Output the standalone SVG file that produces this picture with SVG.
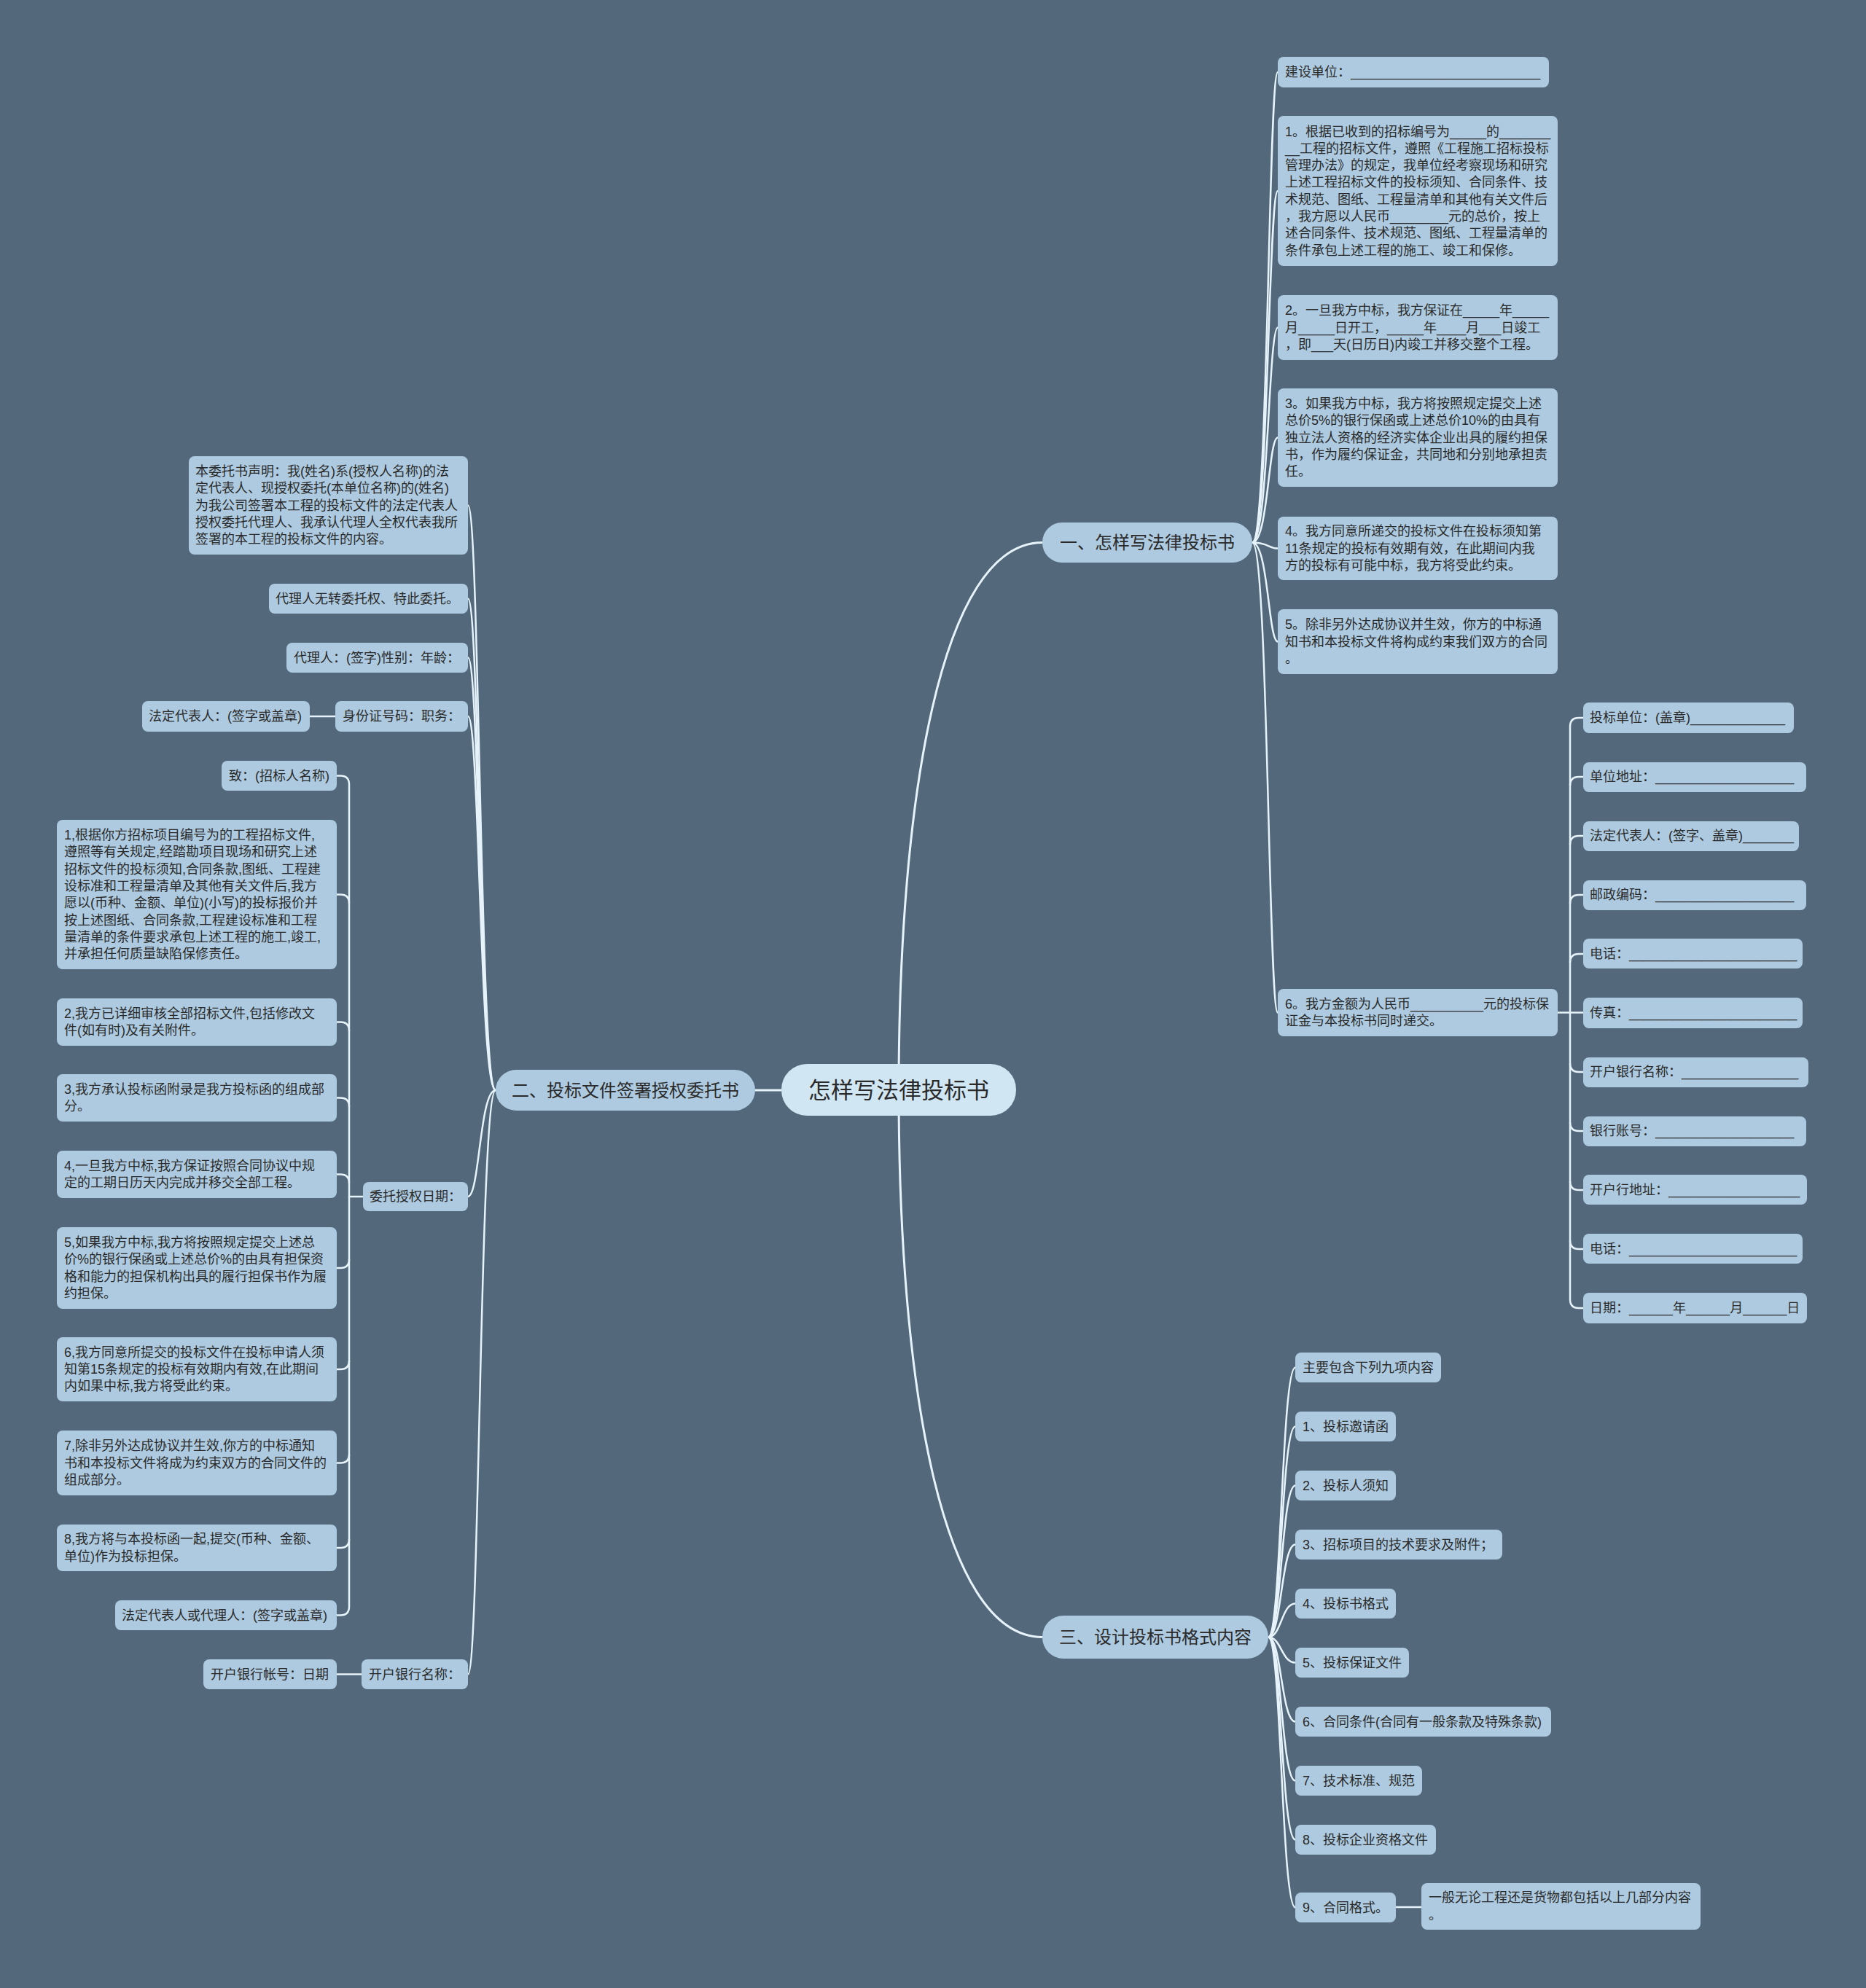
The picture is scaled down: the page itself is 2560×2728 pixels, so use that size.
<svg xmlns="http://www.w3.org/2000/svg" width="2560" height="2728" viewBox="0 0 2560 2728">
<style>
.n{fill:#adcae0}
.b{fill:#adcae0}
.root{fill:#d0e6f3}
.t{font-family:'Liberation Sans','Noto Sans CJK SC',sans-serif;font-size:18px;fill:#2a2a2a;dominant-baseline:central}
.tb{font-family:'Liberation Sans','Noto Sans CJK SC',sans-serif;font-size:24px;fill:#2a2a2a;dominant-baseline:central;text-anchor:middle}
.tr{font-family:'Liberation Sans','Noto Sans CJK SC',sans-serif;font-size:31px;fill:#2a2a2a;dominant-baseline:central;text-anchor:middle}
.c{fill:none;stroke:#e6f3fa;stroke-width:2.5}
.cm{fill:none;stroke:#e6f3fa;stroke-width:3}
</style>
<rect x="0" y="0" width="2560" height="2728" fill="#53687a"/>
<g id="connectors">
<path class="cm" d="M1233,1496 C1233,1100 1290,744.5 1430,744.5"/>
<path class="cm" d="M1233,1496 C1233,1892 1290,2246.5 1430,2246.5"/>
<path class="cm" d="M1072,1496 L1036,1496"/>
<path class="c" d="M1718,744.5 C1740,744.5 1740,99 1753,99"/>
<path class="c" d="M1718,744.5 C1740,744.5 1740,262 1753,262"/>
<path class="c" d="M1718,744.5 C1740,744.5 1740,449.5 1753,449.5"/>
<path class="c" d="M1718,744.5 C1740,744.5 1740,600.5 1753,600.5"/>
<path class="c" d="M1718,744.5 C1740,744.5 1740,752.5 1753,752.5"/>
<path class="c" d="M1718,744.5 C1740,744.5 1740,880.5 1753,880.5"/>
<path class="c" d="M1718,744.5 C1740,744.5 1740,1389.5 1753,1389.5"/>
<path class="c" d="M2137,1389.5 L2154,1389.5 L2154,997 Q2154,985 2166,985 L2172,985"/>
<path class="c" d="M2154,1078 Q2154,1066 2166,1066 L2172,1066"/>
<path class="c" d="M2154,1159 Q2154,1147 2166,1147 L2172,1147"/>
<path class="c" d="M2154,1240 Q2154,1228 2166,1228 L2172,1228"/>
<path class="c" d="M2154,1321 Q2154,1309 2166,1309 L2172,1309"/>
<path class="c" d="M2154,1389.5 L2172,1389.5"/>
<path class="c" d="M2154,1389.5 L2154,1783 Q2154,1795 2166,1795 L2172,1795"/>
<path class="c" d="M2154,1459 Q2154,1471 2166,1471 L2172,1471"/>
<path class="c" d="M2154,1540 Q2154,1552 2166,1552 L2172,1552"/>
<path class="c" d="M2154,1621 Q2154,1633 2166,1633 L2172,1633"/>
<path class="c" d="M2154,1702 Q2154,1714 2166,1714 L2172,1714"/>
<path class="c" d="M1740,2246.5 C1758,2246.5 1758,1876.5 1777,1876.5"/>
<path class="c" d="M1740,2246.5 C1758,2246.5 1758,1957.5 1777,1957.5"/>
<path class="c" d="M1740,2246.5 C1758,2246.5 1758,2038.5 1777,2038.5"/>
<path class="c" d="M1740,2246.5 C1758,2246.5 1758,2119.5 1777,2119.5"/>
<path class="c" d="M1740,2246.5 C1758,2246.5 1758,2200.5 1777,2200.5"/>
<path class="c" d="M1740,2246.5 C1758,2246.5 1758,2281.5 1777,2281.5"/>
<path class="c" d="M1740,2246.5 C1758,2246.5 1758,2362.5 1777,2362.5"/>
<path class="c" d="M1740,2246.5 C1758,2246.5 1758,2443.5 1777,2443.5"/>
<path class="c" d="M1740,2246.5 C1758,2246.5 1758,2524.5 1777,2524.5"/>
<path class="c" d="M1740,2246.5 C1758,2246.5 1758,2617.5 1777,2617.5"/>
<path class="c" d="M1915,2617 L1950,2617"/>
<path class="c" d="M680,1496 C658,1496 658,693.5 642,693.5"/>
<path class="c" d="M680,1496 C658,1496 658,821.5 642,821.5"/>
<path class="c" d="M680,1496 C658,1496 658,902.5 642,902.5"/>
<path class="c" d="M680,1496 C658,1496 658,983 642,983"/>
<path class="c" d="M680,1496 C658,1496 658,1642 642,1642"/>
<path class="c" d="M680,1496 C658,1496 658,2297.5 642,2297.5"/>
<path class="c" d="M460,983 L425,983"/>
<path class="c" d="M496,2297.5 L462,2297.5"/>
<path class="c" d="M498,1642 L479,1642 L479,1076.5 Q479,1064.5 467,1064.5 L462,1064.5"/>
<path class="c" d="M479,1239.5 Q479,1227.5 467,1227.5 L462,1227.5"/>
<path class="c" d="M479,1414.5 Q479,1402.5 467,1402.5 L462,1402.5"/>
<path class="c" d="M479,1518.5 Q479,1506.5 467,1506.5 L462,1506.5"/>
<path class="c" d="M479,1623.5 Q479,1611.5 467,1611.5 L462,1611.5"/>
<path class="c" d="M479,1642 L479,2204.5 Q479,2216.5 467,2216.5 L462,2216.5"/>
<path class="c" d="M479,1728 Q479,1740 467,1740 L462,1740"/>
<path class="c" d="M479,1867 Q479,1879 467,1879 L462,1879"/>
<path class="c" d="M479,1995.5 Q479,2007.5 467,2007.5 L462,2007.5"/>
<path class="c" d="M479,2112 Q479,2124 467,2124 L462,2124"/>
</g>
<g id="root"><rect class="root" x="1072" y="1460" width="322" height="71" rx="35"/><text class="tr" x="1233" y="1496">怎样写法律投标书</text></g>
<g id="b1"><rect class="b" x="1430" y="717" width="288" height="55" rx="27"/><text class="tb" x="1574" y="744.5">一、怎样写法律投标书</text></g>
<g id="b2"><rect class="b" x="680" y="1468" width="356" height="56" rx="28"/><text class="tb" x="858" y="1496">二、投标文件签署授权委托书</text></g>
<g id="b3"><rect class="b" x="1430" y="2217" width="310" height="59" rx="29"/><text class="tb" x="1585" y="2246.5">三、设计投标书格式内容</text></g>

<g id="r0"><rect class="n" x="1753" y="78" width="372" height="42" rx="8"/><text class="t" x="1763" y="99">建设单位：__________________________</text></g>
<g id="r1"><rect class="n" x="1753" y="159" width="384" height="206" rx="8"/><text class="t" x="1763" y="180.5"><tspan x="1763">1。根据已收到的招标编号为_____的_______</tspan><tspan x="1763" dy="23.3">__工程的招标文件，遵照《工程施工招标投标</tspan><tspan x="1763" dy="23.3">管理办法》的规定，我单位经考察现场和研究</tspan><tspan x="1763" dy="23.3">上述工程招标文件的投标须知、合同条件、技</tspan><tspan x="1763" dy="23.3">术规范、图纸、工程量清单和其他有关文件后</tspan><tspan x="1763" dy="23.3">，我方愿以人民币________元的总价，按上</tspan><tspan x="1763" dy="23.3">述合同条件、技术规范、图纸、工程量清单的</tspan><tspan x="1763" dy="23.3">条件承包上述工程的施工、竣工和保修。</tspan></text></g>
<g id="r2"><rect class="n" x="1753" y="405" width="384" height="89" rx="8"/><text class="t" x="1763" y="426.2"><tspan x="1763">2。一旦我方中标，我方保证在_____年_____</tspan><tspan x="1763" dy="23.3">月_____日开工，_____年____月___日竣工</tspan><tspan x="1763" dy="23.3">，即___天(日历日)内竣工并移交整个工程。</tspan></text></g>
<g id="r3"><rect class="n" x="1753" y="533" width="384" height="135" rx="8"/><text class="t" x="1763" y="553.9"><tspan x="1763">3。如果我方中标，我方将按照规定提交上述</tspan><tspan x="1763" dy="23.3">总价5%的银行保函或上述总价10%的由具有</tspan><tspan x="1763" dy="23.3">独立法人资格的经济实体企业出具的履约担保</tspan><tspan x="1763" dy="23.3">书，作为履约保证金，共同地和分别地承担责</tspan><tspan x="1763" dy="23.3">任。</tspan></text></g>
<g id="r4"><rect class="n" x="1753" y="709" width="384" height="87" rx="8"/><text class="t" x="1763" y="729.2"><tspan x="1763">4。我方同意所递交的投标文件在投标须知第</tspan><tspan x="1763" dy="23.3">11条规定的投标有效期有效，在此期间内我</tspan><tspan x="1763" dy="23.3">方的投标有可能中标，我方将受此约束。</tspan></text></g>
<g id="r5"><rect class="n" x="1753" y="836" width="384" height="89" rx="8"/><text class="t" x="1763" y="857.2"><tspan x="1763">5。除非另外达成协议并生效，你方的中标通</tspan><tspan x="1763" dy="23.3">知书和本投标文件将构成约束我们双方的合同</tspan><tspan x="1763" dy="23.3">。</tspan></text></g>
<g id="r6"><rect class="n" x="1753" y="1357" width="384" height="65" rx="8"/><text class="t" x="1763" y="1377.9"><tspan x="1763">6。我方金额为人民币__________元的投标保</tspan><tspan x="1763" dy="23.3">证金与本投标书同时递交。</tspan></text></g>

<g id="s0"><rect class="n" x="2172" y="964" width="289" height="42" rx="8"/><text class="t" x="2181" y="985">投标单位：(盖章)_____________</text></g>
<g id="s1"><rect class="n" x="2172" y="1046" width="306" height="41" rx="8"/><text class="t" x="2181" y="1066">单位地址：___________________</text></g>
<g id="s2"><rect class="n" x="2172" y="1127" width="296" height="41" rx="8"/><text class="t" x="2181" y="1147">法定代表人：(签字、盖章)_______</text></g>
<g id="s3"><rect class="n" x="2172" y="1208" width="306" height="41" rx="8"/><text class="t" x="2181" y="1228">邮政编码：___________________</text></g>
<g id="s4"><rect class="n" x="2172" y="1288" width="301" height="41" rx="8"/><text class="t" x="2181" y="1309">电话：_______________________</text></g>
<g id="s5"><rect class="n" x="2172" y="1369" width="301" height="42" rx="8"/><text class="t" x="2181" y="1390">传真：_______________________</text></g>
<g id="s6"><rect class="n" x="2172" y="1451" width="309" height="41" rx="8"/><text class="t" x="2181" y="1471">开户银行名称：________________</text></g>
<g id="s7"><rect class="n" x="2172" y="1532" width="306" height="41" rx="8"/><text class="t" x="2181" y="1552">银行账号：___________________</text></g>
<g id="s8"><rect class="n" x="2172" y="1612" width="307" height="41" rx="8"/><text class="t" x="2181" y="1633">开户行地址：__________________</text></g>
<g id="s9"><rect class="n" x="2172" y="1693" width="301" height="41" rx="8"/><text class="t" x="2181" y="1714">电话：_______________________</text></g>
<g id="s10"><rect class="n" x="2172" y="1774" width="307" height="42" rx="8"/><text class="t" x="2181" y="1795">日期：______年______月______日</text></g>

<g id="t0"><rect class="n" x="1777" y="1856" width="200" height="41" rx="8"/><text class="t" x="1787" y="1876.5">主要包含下列九项内容</text></g>
<g id="t1"><rect class="n" x="1777" y="1937" width="138" height="41" rx="8"/><text class="t" x="1787" y="1957.5">1、投标邀请函</text></g>
<g id="t2"><rect class="n" x="1777" y="2018" width="138" height="41" rx="8"/><text class="t" x="1787" y="2038.5">2、投标人须知</text></g>
<g id="t3"><rect class="n" x="1777" y="2099" width="284" height="41" rx="8"/><text class="t" x="1787" y="2119.5">3、招标项目的技术要求及附件；</text></g>
<g id="t4"><rect class="n" x="1777" y="2180" width="138" height="41" rx="8"/><text class="t" x="1787" y="2200.5">4、投标书格式</text></g>
<g id="t5"><rect class="n" x="1777" y="2261" width="156" height="41" rx="8"/><text class="t" x="1787" y="2281.5">5、投标保证文件</text></g>
<g id="t6"><rect class="n" x="1777" y="2342" width="351" height="41" rx="8"/><text class="t" x="1787" y="2362.5">6、合同条件(合同有一般条款及特殊条款)</text></g>
<g id="t7"><rect class="n" x="1777" y="2423" width="174" height="41" rx="8"/><text class="t" x="1787" y="2443.5">7、技术标准、规范</text></g>
<g id="t8"><rect class="n" x="1777" y="2504" width="193" height="41" rx="8"/><text class="t" x="1787" y="2524.5">8、投标企业资格文件</text></g>
<g id="t9"><rect class="n" x="1777" y="2597" width="138" height="41" rx="8"/><text class="t" x="1787" y="2617.5">9、合同格式。</text></g>
<g id="t9a"><rect class="n" x="1950" y="2584" width="383" height="64" rx="8"/><text class="t" x="1960" y="2604.3"><tspan x="1960">一般无论工程还是货物都包括以上几部分内容</tspan><tspan x="1960" dy="23.3">。</tspan></text></g>

<g id="l0"><rect class="n" x="259" y="626" width="383" height="135" rx="8"/><text class="t" x="268" y="646.9"><tspan x="268">本委托书声明：我(姓名)系(授权人名称)的法</tspan><tspan x="268" dy="23.3">定代表人、现授权委托(本单位名称)的(姓名)</tspan><tspan x="268" dy="23.3">为我公司签署本工程的投标文件的法定代表人</tspan><tspan x="268" dy="23.3">授权委托代理人、我承认代理人全权代表我所</tspan><tspan x="268" dy="23.3">签署的本工程的投标文件的内容。</tspan></text></g>
<g id="l1"><rect class="n" x="369" y="801" width="273" height="41" rx="8"/><text class="t" x="378" y="821.5">代理人无转委托权、特此委托。</text></g>
<g id="l2"><rect class="n" x="393" y="882" width="249" height="41" rx="8"/><text class="t" x="403" y="902.5">代理人：(签字)性别：年龄：</text></g>
<g id="l3"><rect class="n" x="460" y="962" width="182" height="42" rx="8"/><text class="t" x="470" y="983">身份证号码：职务：</text></g>
<g id="l3a"><rect class="n" x="195" y="962" width="230" height="42" rx="8"/><text class="t" x="204" y="983">法定代表人：(签字或盖章)</text></g>
<g id="l4"><rect class="n" x="498" y="1622" width="144" height="40" rx="8"/><text class="t" x="507" y="1642">委托授权日期：</text></g>
<g id="l5"><rect class="n" x="496" y="2277" width="146" height="41" rx="8"/><text class="t" x="506" y="2297.5">开户银行名称：</text></g>
<g id="l5a"><rect class="n" x="279" y="2277" width="183" height="41" rx="8"/><text class="t" x="289" y="2297.5">开户银行帐号：日期</text></g>

<g id="c0"><rect class="n" x="304" y="1044" width="158" height="41" rx="8"/><text class="t" x="314" y="1064.5">致：(招标人名称)</text></g>
<g id="c1"><rect class="n" x="78" y="1125" width="384" height="205" rx="8"/><text class="t" x="88" y="1146"><tspan x="88">1,根据你方招标项目编号为的工程招标文件,</tspan><tspan x="88" dy="23.3">遵照等有关规定,经踏勘项目现场和研究上述</tspan><tspan x="88" dy="23.3">招标文件的投标须知,合同条款,图纸、工程建</tspan><tspan x="88" dy="23.3">设标准和工程量清单及其他有关文件后,我方</tspan><tspan x="88" dy="23.3">愿以(币种、金额、单位)(小写)的投标报价并</tspan><tspan x="88" dy="23.3">按上述图纸、合同条款,工程建设标准和工程</tspan><tspan x="88" dy="23.3">量清单的条件要求承包上述工程的施工,竣工,</tspan><tspan x="88" dy="23.3">并承担任何质量缺陷保修责任。</tspan></text></g>
<g id="c2"><rect class="n" x="78" y="1370" width="384" height="65" rx="8"/><text class="t" x="88" y="1390.9"><tspan x="88">2,我方已详细审核全部招标文件,包括修改文</tspan><tspan x="88" dy="23.3">件(如有时)及有关附件。</tspan></text></g>
<g id="c3"><rect class="n" x="78" y="1474" width="384" height="65" rx="8"/><text class="t" x="88" y="1494.9"><tspan x="88">3,我方承认投标函附录是我方投标函的组成部</tspan><tspan x="88" dy="23.3">分。</tspan></text></g>
<g id="c4"><rect class="n" x="78" y="1579" width="384" height="65" rx="8"/><text class="t" x="88" y="1599.9"><tspan x="88">4,一旦我方中标,我方保证按照合同协议中规</tspan><tspan x="88" dy="23.3">定的工期日历天内完成并移交全部工程。</tspan></text></g>
<g id="c5"><rect class="n" x="78" y="1684" width="384" height="112" rx="8"/><text class="t" x="88" y="1705"><tspan x="88">5,如果我方中标,我方将按照规定提交上述总</tspan><tspan x="88" dy="23.3">价%的银行保函或上述总价%的由具有担保资</tspan><tspan x="88" dy="23.3">格和能力的担保机构出具的履行担保书作为履</tspan><tspan x="88" dy="23.3">约担保。</tspan></text></g>
<g id="c6"><rect class="n" x="78" y="1835" width="384" height="88" rx="8"/><text class="t" x="88" y="1855.7"><tspan x="88">6,我方同意所提交的投标文件在投标申请人须</tspan><tspan x="88" dy="23.3">知第15条规定的投标有效期内有效,在此期间</tspan><tspan x="88" dy="23.3">内如果中标,我方将受此约束。</tspan></text></g>
<g id="c7"><rect class="n" x="78" y="1963" width="384" height="89" rx="8"/><text class="t" x="88" y="1984.2"><tspan x="88">7,除非另外达成协议并生效,你方的中标通知</tspan><tspan x="88" dy="23.3">书和本投标文件将成为约束双方的合同文件的</tspan><tspan x="88" dy="23.3">组成部分。</tspan></text></g>
<g id="c8"><rect class="n" x="78" y="2092" width="384" height="64" rx="8"/><text class="t" x="88" y="2112.4"><tspan x="88">8,我方将与本投标函一起,提交(币种、金额、</tspan><tspan x="88" dy="23.3">单位)作为投标担保。</tspan></text></g>
<g id="c9"><rect class="n" x="158" y="2196" width="304" height="41" rx="8"/><text class="t" x="167" y="2216.5">法定代表人或代理人：(签字或盖章)</text></g>
</svg>
